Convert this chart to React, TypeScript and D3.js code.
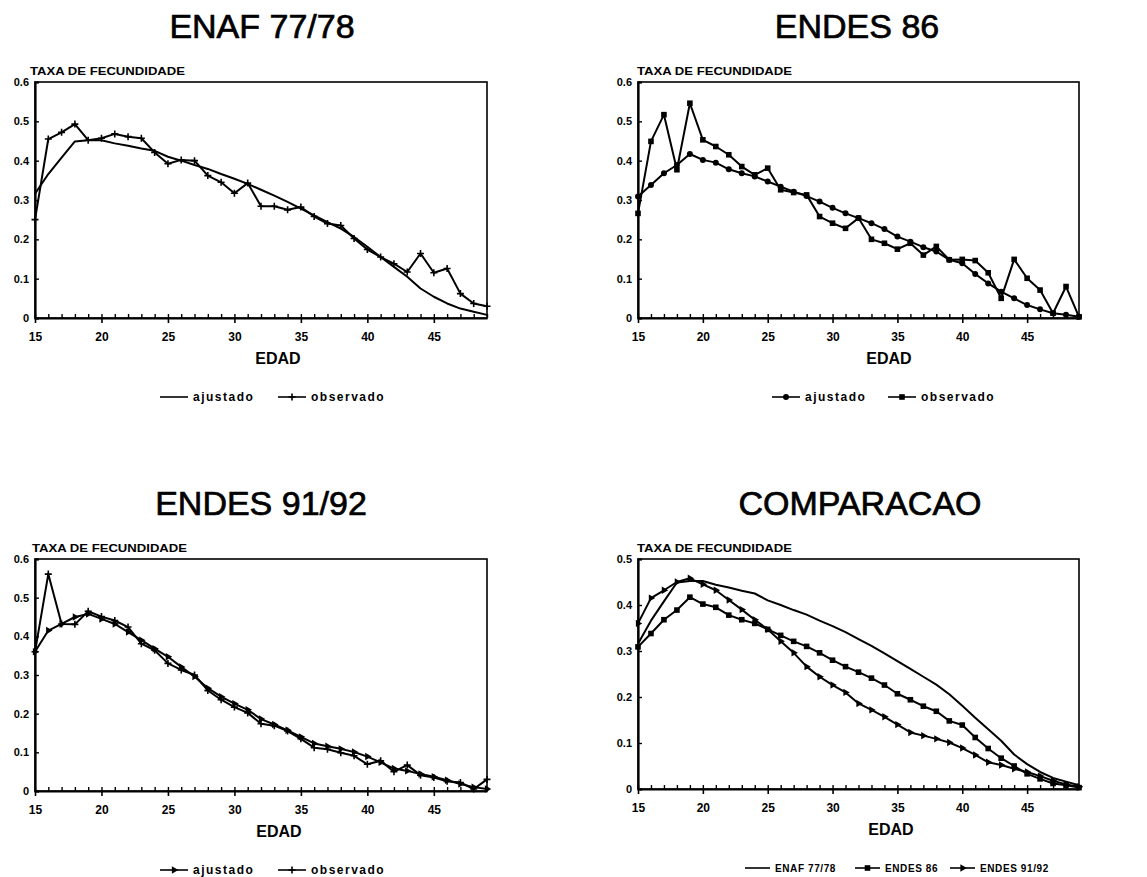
import React, { useEffect, useRef } from 'react';
import * as d3 from 'd3';

const AGES = [15, 16, 17, 18, 19, 20, 21, 22, 23, 24, 25, 26, 27, 28, 29, 30, 31, 32, 33, 34, 35, 36, 37, 38, 39, 40, 41, 42, 43, 44, 45, 46, 47, 48, 49];
const X_TICKS = [15, 20, 25, 30, 35, 40, 45];
const Y_TICKS_06 = [0, 0.1, 0.2, 0.3, 0.4, 0.5, 0.6];
const Y_TICKS_05 = [0, 0.1, 0.2, 0.3, 0.4, 0.5];

const ENAF_AJUSTADO = [0.316, 0.366, 0.408, 0.449, 0.452, 0.452, 0.444, 0.438, 0.431, 0.425, 0.41, 0.40, 0.389, 0.379, 0.366, 0.354, 0.341, 0.326, 0.311, 0.295, 0.278, 0.261, 0.244, 0.227, 0.206, 0.181, 0.155, 0.13, 0.105, 0.075, 0.054, 0.037, 0.024, 0.016, 0.008];
const ENAF_OBSERVADO = [0.25, 0.455, 0.472, 0.493, 0.452, 0.457, 0.468, 0.461, 0.457, 0.421, 0.392, 0.402, 0.40, 0.362, 0.345, 0.317, 0.343, 0.284, 0.284, 0.275, 0.282, 0.258, 0.24, 0.235, 0.202, 0.174, 0.155, 0.138, 0.117, 0.164, 0.115, 0.126, 0.062, 0.037, 0.03];
const ENDES86_AJUSTADO = [0.309, 0.338, 0.368, 0.389, 0.417, 0.402, 0.395, 0.378, 0.368, 0.36, 0.347, 0.334, 0.321, 0.31, 0.296, 0.28, 0.266, 0.254, 0.241, 0.226, 0.207, 0.194, 0.18, 0.169, 0.148, 0.139, 0.112, 0.088, 0.067, 0.05, 0.033, 0.022, 0.012, 0.008, 0.003];
const ENDES86_OBSERVADO = [0.266, 0.449, 0.517, 0.377, 0.546, 0.453, 0.436, 0.415, 0.385, 0.364, 0.381, 0.326, 0.319, 0.313, 0.258, 0.241, 0.228, 0.254, 0.20, 0.19, 0.175, 0.19, 0.16, 0.182, 0.148, 0.149, 0.146, 0.115, 0.05, 0.149, 0.101, 0.071, 0.012, 0.08, 0.003];
const ENDES9192_AJUSTADO = [0.36, 0.415, 0.432, 0.45, 0.458, 0.445, 0.432, 0.411, 0.39, 0.368, 0.347, 0.321, 0.296, 0.266, 0.244, 0.226, 0.21, 0.186, 0.172, 0.157, 0.14, 0.123, 0.116, 0.109, 0.101, 0.089, 0.074, 0.058, 0.052, 0.044, 0.037, 0.028, 0.018, 0.01, 0.005];
const ENDES9192_OBSERVADO = [0.36, 0.561, 0.432, 0.431, 0.465, 0.451, 0.441, 0.424, 0.381, 0.364, 0.33, 0.313, 0.30, 0.26, 0.236, 0.217, 0.202, 0.174, 0.169, 0.155, 0.135, 0.112, 0.108, 0.099, 0.091, 0.069, 0.078, 0.05, 0.067, 0.041, 0.035, 0.025, 0.022, 0.005, 0.03];

const TITLES = ['ENAF 77/78', 'ENDES 86', 'ENDES 91/92', 'COMPARACAO'];
const Y_LABEL = 'TAXA DE FECUNDIDADE';
const X_LABEL = 'EDAD';

const W = 1147;
const H = 877;
const FONT = '"Liberation Sans", Arial, Helvetica, sans-serif';

type Marker = 'none' | 'plus' | 'square' | 'circle' | 'triangle';

const PANELS = [
  {
    title: TITLES[0], left: 35, right: 487, top: 82, bottom: 318, yMax: 0.6, yTicks: Y_TICKS_06,
    titleX: 262, titleY: 38, taxaX: 30, edadX: 278,
    series: [
      { values: ENAF_AJUSTADO, marker: 'none' as Marker },
      { values: ENAF_OBSERVADO, marker: 'plus' as Marker },
    ],
    legend: [
      { label: 'ajustado', marker: 'none' as Marker, x: 160 },
      { label: 'observado', marker: 'plus' as Marker, x: 278 },
    ],
    legendFont: 12, legendLS: 1.5, legendLine: 28,
  },
  {
    title: TITLES[1], left: 638, right: 1079, top: 82, bottom: 318, yMax: 0.6, yTicks: Y_TICKS_06,
    titleX: 857, titleY: 38, taxaX: 637, edadX: 889,
    series: [
      { values: ENDES86_AJUSTADO, marker: 'circle' as Marker },
      { values: ENDES86_OBSERVADO, marker: 'square' as Marker },
    ],
    legend: [
      { label: 'ajustado', marker: 'circle' as Marker, x: 772 },
      { label: 'observado', marker: 'square' as Marker, x: 888 },
    ],
    legendFont: 12, legendLS: 1.5, legendLine: 28,
  },
  {
    title: TITLES[2], left: 35, right: 487, top: 559, bottom: 791, yMax: 0.6, yTicks: Y_TICKS_06,
    titleX: 261, titleY: 515, taxaX: 32, edadX: 279,
    series: [
      { values: ENDES9192_AJUSTADO, marker: 'triangle' as Marker },
      { values: ENDES9192_OBSERVADO, marker: 'plus' as Marker },
    ],
    legend: [
      { label: 'ajustado', marker: 'triangle' as Marker, x: 160 },
      { label: 'observado', marker: 'plus' as Marker, x: 278 },
    ],
    legendFont: 12, legendLS: 1.5, legendLine: 28,
  },
  {
    title: TITLES[3], left: 638, right: 1079, top: 559, bottom: 789, yMax: 0.5, yTicks: Y_TICKS_05,
    titleX: 860, titleY: 515, taxaX: 637, edadX: 891,
    series: [
      { values: ENAF_AJUSTADO, marker: 'none' as Marker },
      { values: ENDES86_AJUSTADO, marker: 'square' as Marker },
      { values: ENDES9192_AJUSTADO, marker: 'triangle' as Marker },
    ],
    legend: [
      { label: 'ENAF 77/78', marker: 'none' as Marker, x: 745 },
      { label: 'ENDES 86', marker: 'square' as Marker, x: 855 },
      { label: 'ENDES 91/92', marker: 'triangle' as Marker, x: 950 },
    ],
    legendFont: 10, legendLS: 0.6, legendLine: 25,
  },
];

function drawMarker(g: any, type: Marker, x: number, y: number) {
  if (type === 'plus') {
    g.append('path')
      .attr('d', `M${x - 3.5},${y}H${x + 3.5}M${x},${y - 3.5}V${y + 3.5}`)
      .attr('stroke', '#000').attr('stroke-width', 1.6).attr('fill', 'none');
  } else if (type === 'square') {
    g.append('rect').attr('x', x - 2.8).attr('y', y - 2.8).attr('width', 5.6).attr('height', 5.6).attr('fill', '#000');
  } else if (type === 'circle') {
    g.append('circle').attr('cx', x).attr('cy', y).attr('r', 3).attr('fill', '#000');
  } else if (type === 'triangle') {
    g.append('path').attr('d', d3.symbol(d3.symbolTriangle, 24)() as string)
      .attr('transform', `translate(${x},${y}) rotate(90)`).attr('fill', '#000');
  }
}

export default function App() {
  const ref = useRef<SVGSVGElement>(null);

  useEffect(() => {
    const svg = d3.select(ref.current);
    svg.selectAll('*').remove();
    svg.append('rect').attr('width', W).attr('height', H).attr('fill', '#fff');

    PANELS.forEach((p) => {
      const x = d3.scaleLinear().domain([AGES[0], AGES[AGES.length - 1]]).range([p.left, p.right]);
      const y = d3.scaleLinear().domain([0, p.yMax]).range([p.bottom, p.top]);
      const g = svg.append('g').attr('font-family', FONT);

      g.append('text')
        .attr('x', p.titleX).attr('y', p.titleY)
        .attr('text-anchor', 'middle').attr('font-size', 34)
        .attr('stroke', '#000').attr('stroke-width', 0.7)
        .text(p.title);

      g.append('text')
        .attr('x', p.taxaX).attr('y', p.top - 7)
        .attr('font-size', 10).attr('font-weight', 'bold')
        .attr('textLength', 155).attr('lengthAdjust', 'spacingAndGlyphs')
        .text(Y_LABEL);

      g.append('rect')
        .attr('x', p.left).attr('y', p.top)
        .attr('width', p.right - p.left).attr('height', p.bottom - p.top)
        .attr('fill', 'none').attr('stroke', '#000').attr('stroke-width', 1.6);

      const minor = g.append('g').attr('transform', `translate(0,${p.bottom})`)
        .call(d3.axisBottom(x).tickValues(AGES).tickSize(-4).tickFormat(() => ''));
      minor.select('.domain').remove();
      minor.selectAll('line').attr('stroke-width', 1.4);

      const xa = g.append('g').attr('transform', `translate(0,${p.bottom})`)
        .call(d3.axisBottom(x).tickValues(X_TICKS).tickSizeInner(5).tickSizeOuter(0).tickPadding(9).tickFormat(d3.format('d')));
      xa.select('.domain').attr('stroke-width', 2.2);
      xa.selectAll('line').attr('stroke-width', 1.6);
      xa.selectAll('text').attr('font-size', 12).attr('font-weight', 'bold').attr('font-family', FONT);

      const ya = g.append('g').attr('transform', `translate(${p.left},0)`)
        .call(d3.axisLeft(y).tickValues(p.yTicks).tickSize(-4).tickPadding(6)
          .tickFormat((v: any) => (v === 0 ? '0' : d3.format('.1f')(v))));
      ya.select('.domain').attr('stroke-width', 2.2);
      ya.selectAll('line').attr('stroke-width', 1.4);
      ya.selectAll('text').attr('font-size', 11).attr('font-weight', 'bold').attr('font-family', FONT);

      const line = d3.line<number>().x((_, i) => x(AGES[i])).y((d) => y(d));
      p.series.forEach((s) => {
        g.append('path').attr('d', line(s.values) as string)
          .attr('fill', 'none').attr('stroke', '#000').attr('stroke-width', 2)
          .attr('stroke-linejoin', 'round');
        if (s.marker !== 'none') {
          s.values.forEach((v, i) => drawMarker(g, s.marker, x(AGES[i]), y(v)));
        }
      });

      g.append('text')
        .attr('x', p.edadX).attr('y', p.bottom + 46)
        .attr('text-anchor', 'middle').attr('font-size', 16).attr('font-weight', 'bold')
        .text(X_LABEL);

      const ly = p.bottom + 79;
      p.legend.forEach((it) => {
        g.append('line')
          .attr('x1', it.x).attr('x2', it.x + p.legendLine)
          .attr('y1', ly).attr('y2', ly)
          .attr('stroke', '#000').attr('stroke-width', 1.6);
        if (it.marker !== 'none') drawMarker(g, it.marker, it.x + p.legendLine / 2, ly);
        g.append('text')
          .attr('x', it.x + p.legendLine + 5).attr('y', ly + 4)
          .attr('font-size', p.legendFont).attr('font-weight', 'bold')
          .attr('letter-spacing', p.legendLS)
          .text(it.label);
      });
    });
  }, []);

  return (
    <svg ref={ref} width={W} height={H} style={{ position: 'absolute', left: 0, top: 0, background: '#fff' }} />
  );
}
